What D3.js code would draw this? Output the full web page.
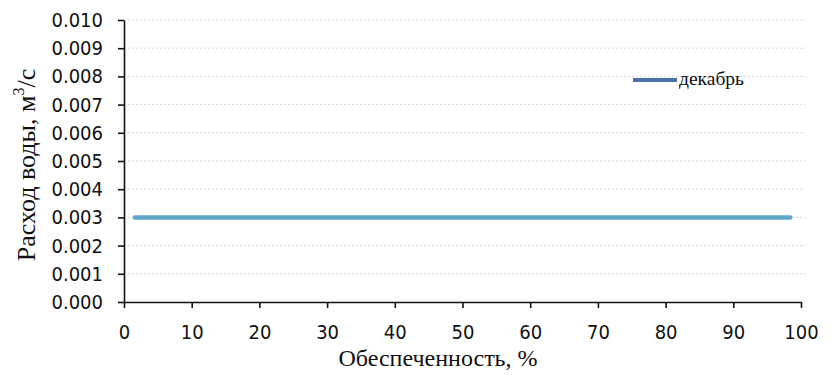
<!DOCTYPE html>
<html>
<head>
<meta charset="utf-8">
<script src="https://cdn.jsdelivr.net/npm/d3@7"></script>
<style>
  body { margin: 0; background: #fff; }
  svg { display: block; }
</style>
</head>
<body>
<div id="chart"></div>
<script>
var svgWidth = 831;
var svgHeight = 375;
var margin = { top: 20, right: 30, bottom: 73, left: 124 };
var width = svgWidth - margin.left - margin.right;
var height = svgHeight - margin.top - margin.bottom;

// data
var seriesName = "декабрь";
var provision = [1.6, 10, 20, 30, 40, 50, 60, 70, 80, 90, 98.4];
var discharge = [0.003, 0.003, 0.003, 0.003, 0.003, 0.003, 0.003, 0.003, 0.003, 0.003, 0.003];
var xTicks = [0, 10, 20, 30, 40, 50, 60, 70, 80, 90, 100];
var yTicks = [0, 0.001, 0.002, 0.003, 0.004, 0.005, 0.006, 0.007, 0.008, 0.009, 0.010];

var points = provision.map((p, i) => ({ x: p, y: discharge[i] }));

var svg = d3.select("#chart")
  .append("svg")
  .attr("width", svgWidth)
  .attr("height", svgHeight);

var chartGroup = svg.append("g")
  .attr("transform", `translate(${margin.left},${margin.top})`);

var xScale = d3.scaleLinear().domain([0, 100]).range([0, width]);
var yScale = d3.scaleLinear().domain([0, 0.010]).range([height, 0]);

// dotted gridlines
chartGroup.append("g")
  .selectAll("line")
  .data(yTicks.filter(d => d > 0))
  .join("line")
  .attr("x1", 0)
  .attr("x2", width + 4)
  .attr("y1", d => yScale(d))
  .attr("y2", d => yScale(d))
  .attr("stroke", "#d6d6d6")
  .attr("stroke-width", 1)
  .attr("stroke-dasharray", "2,2");

var tickFont = "'DejaVu Sans Condensed', 'DejaVu Sans', sans-serif";
var serif = "'Liberation Serif', 'Times New Roman', serif";

var yAxis = chartGroup.append("g")
  .call(d3.axisLeft(yScale).tickValues(yTicks).tickFormat(d3.format(".3f")).tickSize(6).tickSizeOuter(0));
yAxis.selectAll("text")
  .attr("font-family", tickFont)
  .attr("font-size", 20)
  .attr("fill", "#111")
  .attr("x", -21);

var xAxis = chartGroup.append("g")
  .attr("transform", `translate(0,${height})`)
  .call(d3.axisBottom(xScale).tickValues(xTicks).tickFormat(d3.format("d")).tickSize(6).tickSizeOuter(0));
xAxis.selectAll("text")
  .attr("font-family", tickFont)
  .attr("font-size", 20)
  .attr("fill", "#111")
  .attr("y", 23);

svg.selectAll(".domain, .tick line")
  .attr("stroke", "#111")
  .attr("stroke-width", 1.6);

// series line
var line = d3.line().x(d => xScale(d.x)).y(d => yScale(d.y));
chartGroup.append("path")
  .datum(points)
  .attr("d", line)
  .attr("fill", "none")
  .attr("stroke", "#62a6cd")
  .attr("stroke-width", 4.5)
  .attr("stroke-linecap", "round");

// axis titles
svg.append("text")
  .attr("x", 438)
  .attr("y", 366)
  .attr("text-anchor", "middle")
  .attr("font-family", serif)
  .attr("font-size", 24)
  .attr("fill", "#111")
  .text("Обеспеченность, %");

var yTitle = svg.append("text")
  .attr("transform", "translate(35,165) rotate(-90)")
  .attr("text-anchor", "middle")
  .attr("font-family", serif)
  .attr("font-size", 26)
  .attr("fill", "#111");
yTitle.append("tspan").text("Расход воды, м");
yTitle.append("tspan").attr("dy", -11).attr("font-size", 16).text("3");
yTitle.append("tspan").attr("dy", 11).text("/с");

// legend
var legend = svg.append("g").attr("transform", "translate(633,80)");
legend.append("line")
  .attr("x1", 0).attr("x2", 44)
  .attr("y1", 0).attr("y2", 0)
  .attr("stroke", "#4a72a6")
  .attr("stroke-width", 4);
legend.append("text")
  .attr("x", 46)
  .attr("y", 5)
  .attr("font-family", serif)
  .attr("font-size", 19.5)
  .attr("fill", "#111")
  .text(seriesName);
</script>
</body>
</html>
